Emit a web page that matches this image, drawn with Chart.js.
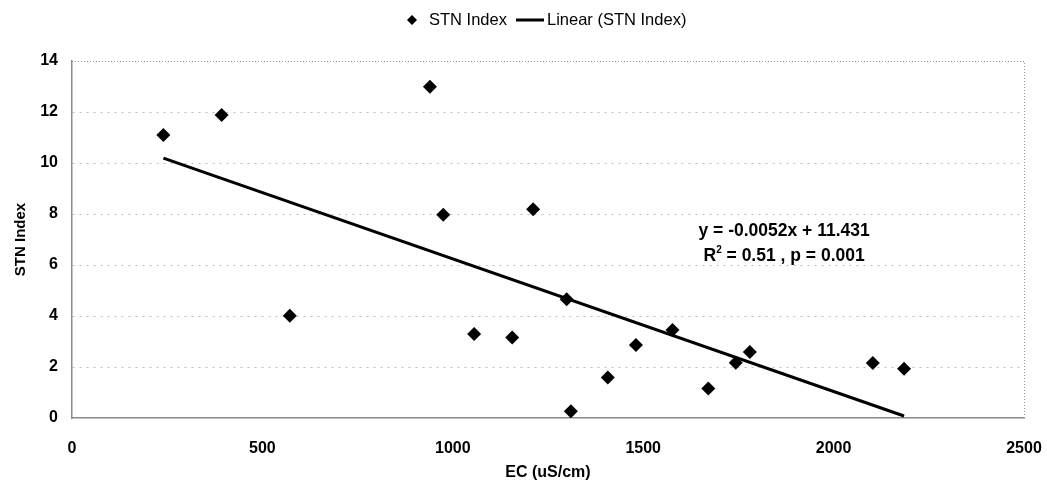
<!DOCTYPE html>
<html>
<head>
<meta charset="utf-8">
<script src="https://cdn.jsdelivr.net/npm/chart.js@4"></script>
<style>
  html, body { margin: 0; padding: 0; background: #fff; }
  #wrap { width: 1047px; height: 489px; }
</style>
</head>
<body>
<div id="wrap"><canvas id="myChart" width="1047" height="489"></canvas></div>
<script>
const ecValues = [240, 393, 572, 940, 975, 1056, 1156, 1211, 1299, 1310, 1407, 1481, 1577, 1671, 1743, 1780, 2103, 2185];
const stnValues = [11.10, 11.88, 4.01, 12.99, 7.97, 3.29, 3.16, 8.19, 4.66, 0.26, 1.59, 2.86, 3.45, 1.16, 2.17, 2.59, 2.16, 1.93];
const trendX = [240, 2185];
const trendY = [10.19, 0.08];
const equationText = 'y = -0.0052x + 11.431';
const r2Text = ' = 0.51 , p = 0.001';

const FONT = "'Liberation Sans', Arial, sans-serif";

const points = ecValues.map((x, i) => ({x: x, y: stnValues[i]}));
const trend = trendX.map((x, i) => ({x: x, y: trendY[i]}));

// legend + plot frame + equation text
const extras = {
    id: 'extras',
    afterDraw(chart) {
        const ctx = chart.ctx;
        const area = chart.chartArea;
        ctx.save();

        // dotted top/right frame
        ctx.strokeStyle = '#9a9a9a';
        ctx.lineWidth = 1;
        ctx.setLineDash([1, 2]);
        ctx.beginPath();
        ctx.moveTo(area.left, area.top + 0.5);
        ctx.lineTo(area.right + 0.5, area.top + 0.5);
        ctx.lineTo(area.right + 0.5, area.bottom);
        ctx.stroke();
        ctx.setLineDash([]);

        // legend
        ctx.fillStyle = '#000';
        ctx.strokeStyle = '#000';
        ctx.font = '16.5px ' + FONT;
        ctx.textBaseline = 'middle';
        ctx.textAlign = 'left';
        const ly = 20;
        let lx = 412;
        ctx.beginPath();
        ctx.moveTo(lx, ly - 5);
        ctx.lineTo(lx + 5, ly);
        ctx.lineTo(lx, ly + 5);
        ctx.lineTo(lx - 5, ly);
        ctx.closePath();
        ctx.fill();
        ctx.fillText('STN Index', 429, ly);
        ctx.lineWidth = 3;
        ctx.beginPath();
        ctx.moveTo(516, ly);
        ctx.lineTo(544, ly);
        ctx.stroke();
        ctx.fillText('Linear (STN Index)', 547, ly);

        // equation
        const xs = chart.scales.x, ys = chart.scales.y;
        const cx = xs.getPixelForValue(1870);
        ctx.font = 'bold 17.5px ' + FONT;
        ctx.textAlign = 'center';
        ctx.fillText(equationText, cx, ys.getPixelForValue(7.34));
        const y2 = ys.getPixelForValue(6.36);
        const wR = ctx.measureText('R').width;
        ctx.font = 'bold 10px ' + FONT;
        const w2 = ctx.measureText('2').width;
        ctx.font = 'bold 17.5px ' + FONT;
        const wRest = ctx.measureText(r2Text).width;
        let sx = cx - (wR + w2 + wRest) / 2;
        ctx.textAlign = 'left';
        ctx.fillText('R', sx, y2);
        ctx.font = 'bold 10px ' + FONT;
        ctx.fillText('2', sx + wR, y2 - 6);
        ctx.font = 'bold 17.5px ' + FONT;
        ctx.fillText(r2Text, sx + wR + w2, y2);

        ctx.restore();
    }
};

const ctx = document.getElementById('myChart').getContext('2d');

const myChart = new Chart(ctx, {
    type: 'scatter',
    data: {
        datasets: [{
            label: 'STN Index',
            data: points,
            pointStyle: 'rectRot',
            pointRadius: 7,
            pointHoverRadius: 7,
            backgroundColor: '#000',
            borderColor: '#000',
            borderWidth: 0
        }, {
            type: 'line',
            label: 'Linear (STN Index)',
            data: trend,
            borderColor: '#000',
            borderWidth: 3,
            pointRadius: 0,
            fill: false
        }]
    },
    options: {
        responsive: false,
        maintainAspectRatio: false,
        animation: false,
        layout: {
            padding: {top: 61, right: 23, left: 0, bottom: 0}
        },
        scales: {
            x: {
                type: 'linear',
                min: 0,
                max: 2500,
                afterFit: (s) => { s.height = 71; s.paddingRight = 0; s.paddingLeft = 0; },
                ticks: {
                    stepSize: 500,
                    color: '#000',
                    padding: 21,
                    font: {family: FONT, size: 16, weight: 'bold'},
                    callback: (v) => String(v)
                },
                grid: {display: false, drawTicks: false},
                border: {display: true, color: '#8a8a8a', width: 1.5},
                title: {
                    display: true,
                    text: 'EC (uS/cm)',
                    color: '#000',
                    font: {family: FONT, size: 16, weight: 'bold'},
                    padding: {top: 0, bottom: 7}
                }
            },
            y: {
                min: 0,
                max: 14,
                afterFit: (s) => { s.width = 72; },
                ticks: {
                    stepSize: 2,
                    color: '#000',
                    padding: 14,
                    font: {family: FONT, size: 16, weight: 'bold'}
                },
                grid: {
                    drawTicks: false,
                    color: (c) => (c.tick && (c.tick.value === 0 || c.tick.value === 14)) ? 'rgba(0,0,0,0)' : '#bdbdbd'
                },
                border: {display: true, color: '#8a8a8a', width: 1.5, dash: [2, 5]},
                title: {
                    display: true,
                    text: 'STN Index',
                    color: '#000',
                    font: {family: FONT, size: 15, weight: 'bold'},
                    padding: {top: 12, bottom: 0}
                }
            }
        },
        plugins: {
            legend: {display: false},
            tooltip: {enabled: false}
        }
    },
    plugins: [extras]
});
</script>
</body>
</html>
